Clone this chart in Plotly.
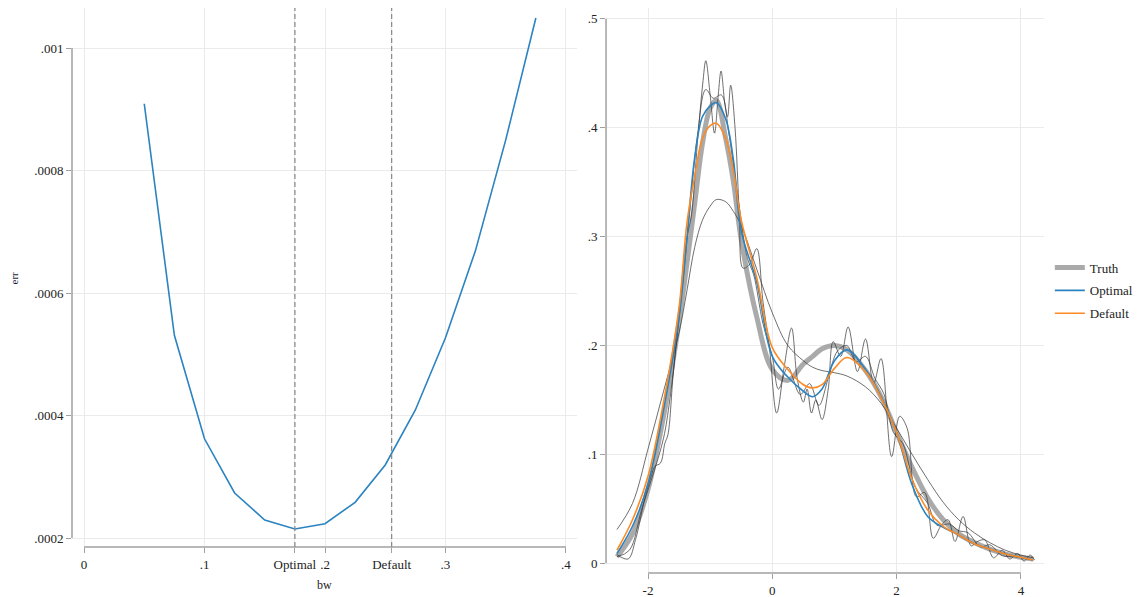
import plotly.graph_objects as go

# ---- Left panel: integrated squared error across candidate bandwidths ----
bw = [0.05, 0.075, 0.1, 0.125, 0.15, 0.175, 0.2, 0.225, 0.25, 0.275, 0.3, 0.325, 0.35, 0.375]
err = [0.000909, 0.000531, 0.000362, 0.0002735, 0.0002294, 0.0002147, 0.0002233,
       0.0002583, 0.0003192, 0.000409, 0.000527, 0.00067, 0.00085, 0.001049]
BW_OPTIMAL = 0.175
BW_DEFAULT = 0.2553

left_x_ticks = [0, 0.1, BW_OPTIMAL, 0.2, BW_DEFAULT, 0.3, 0.4]
left_x_text = ["0", ".1", "Optimal", ".2", "Default", ".3", ".4"]
left_y_ticks = [0.0002, 0.0004, 0.0006, 0.0008, 0.001]
left_y_text = [".0002", ".0004", ".0006", ".0008", ".001"]

# ---- Right panel: density estimates ----
grid = [-2.5, -2.25, -2.0, -1.75, -1.5, -1.375, -1.25, -1.125, -1.0, -0.9, -0.75, -0.625,
        -0.5, -0.25, 0.0, 0.25, 0.5, 0.65, 0.8, 1.0, 1.2, 1.5, 1.75, 2.0, 2.25, 2.5, 2.75,
        3.0, 3.25, 3.5, 3.75, 4.0, 4.2]
truth = [0.006, 0.027, 0.068, 0.135, 0.222, 0.275, 0.33, 0.385, 0.418, 0.425, 0.39, 0.35,
         0.297, 0.226, 0.178, 0.168, 0.183, 0.19, 0.197, 0.2, 0.196, 0.177, 0.153, 0.12,
         0.088, 0.06, 0.04, 0.027, 0.019, 0.013, 0.0085, 0.0055, 0.004]
optimal = [0.009, 0.034, 0.073, 0.141, 0.226, 0.298, 0.372, 0.41, 0.42, 0.423, 0.408, 0.37,
           0.305, 0.258, 0.19, 0.171, 0.158, 0.153, 0.16, 0.186, 0.196, 0.178, 0.153, 0.12,
           0.072, 0.043, 0.033, 0.026, 0.018, 0.013, 0.0085, 0.0055, 0.003]
default = [0.012, 0.04, 0.08, 0.148, 0.235, 0.312, 0.355, 0.39, 0.402, 0.404, 0.39, 0.36,
           0.315, 0.262, 0.198, 0.178, 0.164, 0.161, 0.164, 0.179, 0.189, 0.176, 0.152, 0.12,
           0.077, 0.049, 0.034, 0.026, 0.018, 0.013, 0.0085, 0.0055, 0.003]
oversmooth = [0.031, 0.055, 0.105, 0.158, 0.212, 0.25, 0.29, 0.315, 0.328, 0.334, 0.332, 0.323,
              0.31, 0.27, 0.23, 0.2, 0.186, 0.18, 0.177, 0.175, 0.172, 0.162, 0.147, 0.124,
              0.1, 0.077, 0.056, 0.04, 0.028, 0.019, 0.012, 0.0075, 0.005]

# undersmoothed estimates, sampled at their turning points
under1_x = [-2.5, -2.32, -2.2, -2.05, -1.95, -1.89, -1.8, -1.73, -1.68, -1.6, -1.5, -1.42,
            -1.36, -1.3, -1.2, -1.12, -1.07, -1.0, -0.93, -0.87, -0.825, -0.76, -0.72, -0.67,
            -0.6, -0.53, -0.47, -0.36, -0.25, -0.15, -0.05, 0.07, 0.19, 0.31, 0.4, 0.5, 0.56,
            0.63, 0.7, 0.8, 0.9, 0.98, 1.1, 1.22, 1.37, 1.5, 1.63, 1.75, 1.92, 2.05, 2.17,
            2.32, 2.45, 2.59, 2.72, 2.83, 2.94, 3.07, 3.2, 3.3, 3.42, 3.56, 3.7, 3.82, 3.95,
            4.05, 4.15, 4.22]
under1_y = [0.008, 0.004, 0.022, 0.06, 0.08, 0.089, 0.092, 0.11, 0.118, 0.17, 0.23, 0.28,
            0.303, 0.32, 0.39, 0.44, 0.4615, 0.43, 0.395, 0.43, 0.452, 0.42, 0.41, 0.439,
            0.40, 0.32, 0.271, 0.275, 0.289, 0.24, 0.2, 0.138, 0.18, 0.216, 0.17, 0.148, 0.16,
            0.138, 0.15, 0.132, 0.16, 0.2035, 0.19, 0.217, 0.176, 0.206, 0.165, 0.188, 0.098,
            0.135, 0.124, 0.061, 0.065, 0.023, 0.035, 0.04, 0.02, 0.043, 0.016, 0.02, 0.0214,
            0.005, 0.012, 0.004, 0.009, 0.002, 0.0076, 0.003]
under2_x = [-2.5, -2.3, -2.1, -1.9, -1.75, -1.65, -1.5, -1.35, -1.2, -1.07, -0.95, -0.82,
            -0.7, -0.55, -0.4, -0.3, -0.15, 0.0, 0.1, 0.25, 0.45, 0.6, 0.75, 0.9, 1.05, 1.2,
            1.35, 1.5, 1.65, 1.8, 1.95, 2.1, 2.3, 2.5, 2.65, 2.85, 3.0, 3.15, 3.35, 3.5, 3.7,
            3.9, 4.2]
under2_y = [0.006, 0.012, 0.05, 0.085, 0.115, 0.15, 0.225, 0.31, 0.395, 0.435, 0.427, 0.43,
            0.395, 0.335, 0.28, 0.265, 0.22, 0.19, 0.16, 0.18, 0.155, 0.165, 0.145, 0.17,
            0.195, 0.2, 0.185, 0.19, 0.17, 0.155, 0.12, 0.11, 0.07, 0.055, 0.035, 0.036, 0.03,
            0.028, 0.015, 0.017, 0.007, 0.006, 0.003]

right_x_ticks = [-2, 0, 2, 4]
right_x_text = ["-2", "0", "2", "4"]
right_y_ticks = [0, 0.1, 0.2, 0.3, 0.4, 0.5]
right_y_text = ["0", ".1", ".2", ".3", ".4", ".5"]

BLUE = "#2b83c0"
ORANGE = "#fd8a23"
TRUTH_GRAY = "rgba(155,155,155,0.85)"
THIN_GRAY = "rgba(55,55,55,0.72)"
GRID = "#ebebeb"
AXIS = "#a0a0a0"
TEXT = "#222222"
FONT = "Liberation Serif"

fig = go.Figure()

fig.add_trace(go.Scatter(x=bw, y=err, mode="lines", line=dict(color=BLUE, width=1.6),
                         xaxis="x", yaxis="y", showlegend=False, name="err"))

fig.add_trace(go.Scatter(x=grid, y=truth, mode="lines", name="Truth", legendgroup="truth",
                         line=dict(color=TRUTH_GRAY, width=5, shape="spline"),
                         xaxis="x2", yaxis="y2"))
for xs, ys in [(under1_x, under1_y), (under2_x, under2_y), (grid, oversmooth)]:
    fig.add_trace(go.Scatter(x=xs, y=ys, mode="lines", showlegend=False,
                             line=dict(color=THIN_GRAY, width=1, shape="spline"),
                             xaxis="x2", yaxis="y2"))
fig.add_trace(go.Scatter(x=grid, y=optimal, mode="lines", name="Optimal", legendgroup="opt",
                         line=dict(color=BLUE, width=1.6, shape="spline"),
                         xaxis="x2", yaxis="y2"))
fig.add_trace(go.Scatter(x=grid, y=default, mode="lines", name="Default", legendgroup="def",
                         line=dict(color=ORANGE, width=1.6, shape="spline"),
                         xaxis="x2", yaxis="y2"))

axis_common = dict(showgrid=True, gridcolor=GRID, gridwidth=1, zeroline=False,
                   showline=False, ticks="outside", ticklen=5, tickwidth=1, automargin=False,
                   tickcolor=AXIS, tickangle=0, tickfont=dict(family=FONT, size=13, color=TEXT))

shapes = []
# axis lines spanning the labelled range only
shapes.append(dict(type="line", xref="x", yref="y domain", x0=left_x_ticks[0], x1=left_x_ticks[-1],
                   y0=0, y1=0, line=dict(color=AXIS, width=1.5)))
shapes.append(dict(type="line", xref="x domain", yref="y", x0=0, x1=0,
                   y0=left_y_ticks[0], y1=left_y_ticks[-1], line=dict(color=AXIS, width=1.5)))
shapes.append(dict(type="line", xref="x2", yref="y2 domain", x0=right_x_ticks[0], x1=right_x_ticks[-1],
                   y0=0, y1=0, line=dict(color=AXIS, width=1.5)))
shapes.append(dict(type="line", xref="x2 domain", yref="y2", x0=0, x1=0,
                   y0=right_y_ticks[0], y1=right_y_ticks[-1], line=dict(color=AXIS, width=1.5)))
# reference lines at the chosen bandwidths
for b in (BW_OPTIMAL, BW_DEFAULT):
    shapes.append(dict(type="line", xref="x", yref="y domain", x0=b, x1=b, y0=0, y1=1,
                       line=dict(color="#8c8c8c", width=1.3, dash="5px,3px")))

fig.update_layout(
    width=1146, height=597,
    margin=dict(l=72, r=102, t=8, b=24, autoexpand=False),
    paper_bgcolor="white", plot_bgcolor="white",
    font=dict(family=FONT, size=13, color=TEXT),
    xaxis=dict(domain=[0, 0.5195], anchor="y", range=[-0.00996, 0.4091],
               tickmode="array", tickvals=left_x_ticks, ticktext=left_x_text, **axis_common),
    yaxis=dict(domain=[0.046, 1], anchor="x", range=[0.0001853, 0.0010653],
               tickmode="array", tickvals=left_y_ticks, ticktext=left_y_text, **axis_common),
    xaxis2=dict(domain=[0.5494, 1], anchor="y2", range=[-2.676, 4.372],
                tickmode="array", tickvals=right_x_ticks, ticktext=right_x_text, **axis_common),
    yaxis2=dict(domain=[0, 1], anchor="x2", range=[-0.0089, 0.5099],
                tickmode="array", tickvals=right_y_ticks, ticktext=right_y_text, **axis_common),
    shapes=shapes,
    annotations=[
        dict(text="err", xref="x domain", yref="y domain", x=-0.115, y=0.5, textangle=-90,
             showarrow=False, xanchor="center", yanchor="middle",
             font=dict(family=FONT, size=11, color="#1c1c3a")),
        dict(text="bw", xref="x domain", yref="y domain", x=0.5, y=-0.0705,
             showarrow=False, xanchor="center", yanchor="middle",
             font=dict(family=FONT, size=12, color=TEXT)),
    ],
    legend=dict(x=1.006, xanchor="left", y=0.5, yanchor="middle", tracegroupgap=3,
                bgcolor="rgba(0,0,0,0)", font=dict(family=FONT, size=13, color=TEXT)),
)

fig.write_html("out.html")
